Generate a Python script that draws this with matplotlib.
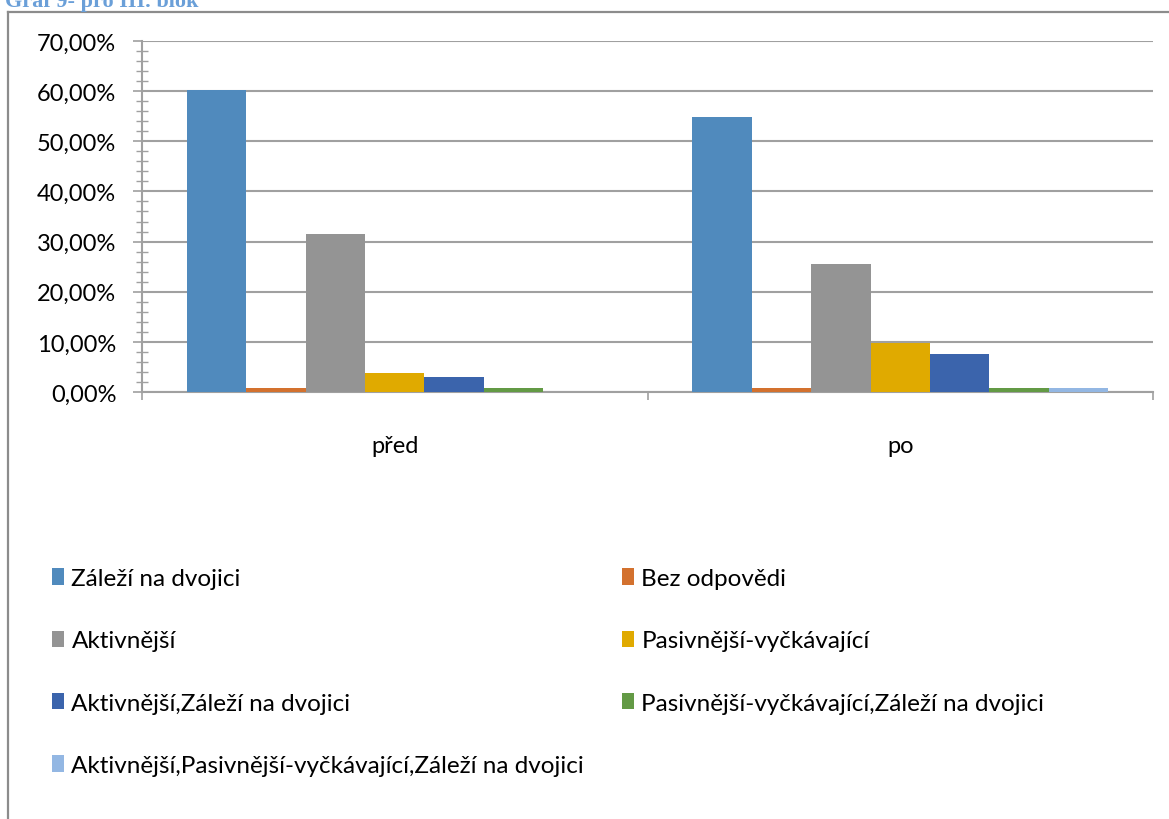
import matplotlib
matplotlib.use("Agg")
import matplotlib.pyplot as plt
from matplotlib.patches import Patch
from matplotlib.lines import Line2D
from matplotlib.ticker import MultipleLocator, FuncFormatter
import numpy as np

plt.rcParams['font.family'] = ['Lato', 'DejaVu Sans']

# Survey answers, share of respondents (%) before and after
categories = ["před", "po"]
series_names = [
    "Záleží na dvojici",
    "Bez odpovědi",
    "Aktivnější",
    "Pasivnější-vyčkávající",
    "Aktivnější,Záleží na dvojici",
    "Pasivnější-vyčkávající,Záleží na dvojici",
    "Aktivnější,Pasivnější-vyčkávající,Záleží na dvojici",
]
values_pred = [60.15, 0.75, 31.58, 3.76, 3.01, 0.75, 0.0]
values_po = [54.89, 0.75, 25.56, 9.77, 7.52, 0.75, 0.75]
colors = ["#508ABD", "#D3712E", "#949494", "#E0AA00", "#3B64AC", "#639A45", "#93B7E3"]
y_ticks = [0, 10, 20, 30, 40, 50, 60, 70]

fig = plt.figure(figsize=(11.69, 8.20), dpi=100)
W, H = 1169, 820

# outer chart frame
frame_col = "#8C8C8C"
fig.add_artist(Line2D([7.5 / W, 7.5 / W], [0, 1 - 12.7 / H], color=frame_col, lw=1.6,
                      transform=fig.transFigure))
fig.add_artist(Line2D([7.5 / W, 1], [1 - 12.7 / H, 1 - 12.7 / H], color=frame_col, lw=1.6,
                      transform=fig.transFigure))

# caption above the chart
fig.text(5 / W, 1 - 7 / H, "Graf 9- pro III. blok", family=["Liberation Serif"],
         fontweight="bold", fontsize=16, color="#6A9FD8", ha="left", va="baseline")

ax = fig.add_axes([142 / W, 1 - 393 / H, (1153 - 142) / W, (393 - 42) / H])

n = len(series_names)
gap = 1.5
bw = 1.0 / (n + gap)
x = np.arange(len(categories))
data = np.array([values_pred, values_po])
for i, name in enumerate(series_names):
    offs = (-n / 2 + i + 0.5) * bw
    ax.bar(x + offs, data[:, i], width=bw, color=colors[i], label=name, zorder=3,
           edgecolor="none")

ax.set_xlim(-0.5, 1.5)
ax.set_ylim(0, 70)

grid_col = "#A0A0A0"
ax.set_yticks(y_ticks)
ax.yaxis.set_minor_locator(MultipleLocator(2))
ax.yaxis.set_major_formatter(FuncFormatter(lambda v, p: f"{v:.2f}".replace(".", ",") + "%"))
ax.grid(axis="y", which="major", color=grid_col, lw=1.5, zorder=0)
ax.tick_params(axis="y", which="major", direction="out", length=6.5, width=1.2,
               color=grid_col, pad=12, labelsize=17, labelcolor="black")
ax.tick_params(axis="y", which="minor", direction="inout", length=9, width=1.0,
               color=grid_col)

# category boundaries as ticks, names centred beneath each group
ax.set_xticks([-0.5, 0.5, 1.5])
ax.set_xticklabels([])
ax.set_xticks(x, minor=True)
ax.set_xticklabels(categories, minor=True)
ax.tick_params(axis="x", which="major", direction="out", length=6, width=1.2, color=grid_col)
ax.tick_params(axis="x", which="minor", length=0, pad=31, labelsize=17)

for s in ["top", "right"]:
    ax.spines[s].set_visible(False)
for s in ["left", "bottom"]:
    ax.spines[s].set_color(grid_col)
    ax.spines[s].set_linewidth(1.5)

handles = [Patch(facecolor=c, edgecolor="none") for c in colors]
leg_kw = dict(frameon=False, fontsize=17.5, handlelength=0.5, handleheight=0.65,
              handletextpad=0.3, labelspacing=1.7, borderaxespad=0, borderpad=0,
              loc="upper left")
left_idx = [0, 2, 4, 6]
right_idx = [1, 3, 5]
leg1 = fig.legend([handles[i] for i in left_idx], [series_names[i] for i in left_idx],
                  bbox_to_anchor=(52 / W, 1 - 569 / H), **leg_kw)
leg2 = fig.legend([handles[i] for i in right_idx], [series_names[i] for i in right_idx],
                  bbox_to_anchor=(622 / W, 1 - 569 / H), **leg_kw)

fig.savefig("out.png", dpi=100)
